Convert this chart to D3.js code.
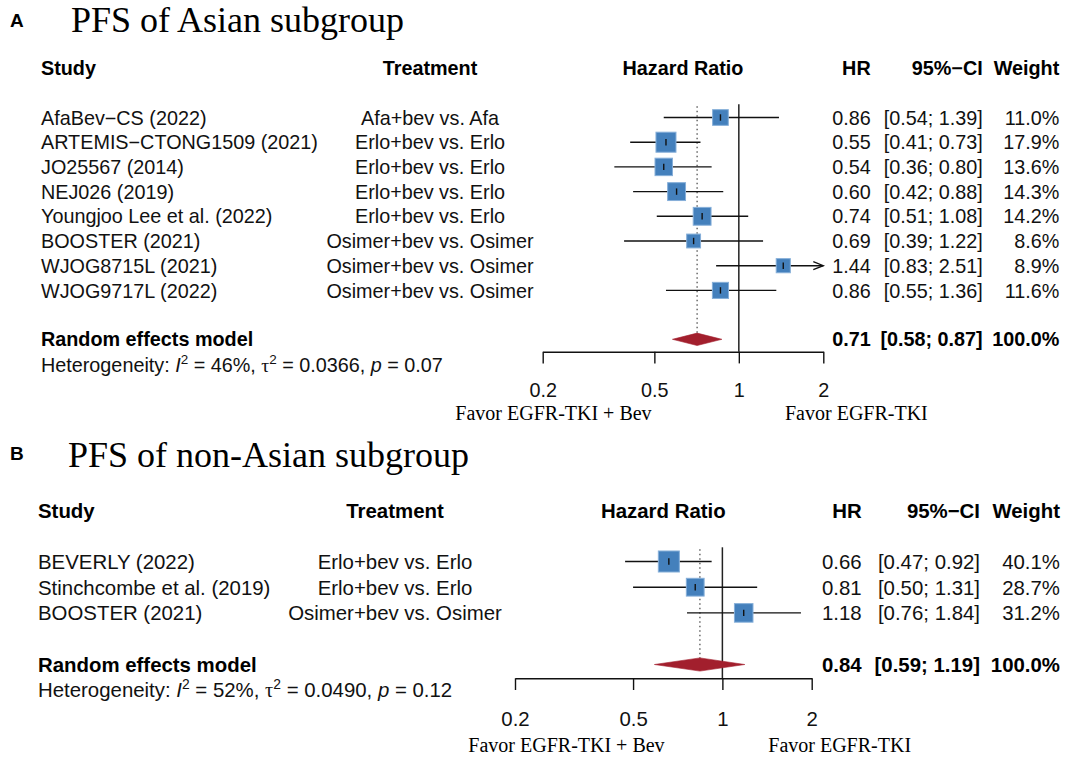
<!DOCTYPE html>
<html>
<head>
<meta charset="utf-8">
<script src="https://cdn.jsdelivr.net/npm/d3@7"></script>
<style>
  html, body { margin: 0; padding: 0; background: #ffffff; }
  svg { display: block; }
</style>
</head>
<body>
<svg id="chart" width="1065" height="759"></svg>
<script>
// ---------------- DATA ----------------
// Panel A: PFS of Asian subgroup
const asianStudies = ["AfaBev\u2212CS (2022)", "ARTEMIS\u2212CTONG1509 (2021)", "JO25567 (2014)", "NEJ026 (2019)",
  "Youngjoo Lee et al. (2022)", "BOOSTER (2021)", "WJOG8715L (2021)", "WJOG9717L (2022)"];
const asianTreatments = ["Afa+bev vs. Afa", "Erlo+bev vs. Erlo", "Erlo+bev vs. Erlo", "Erlo+bev vs. Erlo",
  "Erlo+bev vs. Erlo", "Osimer+bev vs. Osimer", "Osimer+bev vs. Osimer", "Osimer+bev vs. Osimer"];
const asianHR = [0.86, 0.55, 0.54, 0.60, 0.74, 0.69, 1.44, 0.86];
const asianLower = [0.54, 0.41, 0.36, 0.42, 0.51, 0.39, 0.83, 0.55];
const asianUpper = [1.39, 0.73, 0.80, 0.88, 1.08, 1.22, 2.51, 1.36];
const asianWeight = [11.0, 17.9, 13.6, 14.3, 14.2, 8.6, 8.9, 11.6];
const asianPooled = [0.71, 0.58, 0.87];
const asianHet = ["46%", "0.0366", "0.07"];

// Panel B: PFS of non-Asian subgroup
const nonAsianStudies = ["BEVERLY (2022)", "Stinchcombe et al. (2019)", "BOOSTER (2021)"];
const nonAsianTreatments = ["Erlo+bev vs. Erlo", "Erlo+bev vs. Erlo", "Osimer+bev vs. Osimer"];
const nonAsianHR = [0.66, 0.81, 1.18];
const nonAsianLower = [0.47, 0.50, 0.76];
const nonAsianUpper = [0.92, 1.31, 1.84];
const nonAsianWeight = [40.1, 28.7, 31.2];
const nonAsianPooled = [0.84, 0.59, 1.19];
const nonAsianHet = ["52%", "0.0490", "0.12"];

// Axis
const tickValues = [0.2, 0.5, 1, 2];
const axisDomain = [0.2, 2];
const headers = ["Study", "Treatment", "Hazard Ratio", "HR", "95%\u2212CI", "Weight"];
const favorLabels = ["Favor EGFR-TKI + Bev", "Favor EGFR-TKI"];

// ---------------- DRAWING ----------------
const SANS = "'Liberation Sans', Arial, Helvetica, sans-serif";
const SERIF = "'Liberation Serif', 'Times New Roman', Times, serif";
const svg = d3.select("#chart");
const f2 = d3.format(".2f");
const f1 = d3.format(".1f");

function drawPanel(d, L) {
  const g = svg.append("g");
  const fs = L.fontSize;
  const base = fs * 0.36; // shift from visual centre to baseline

  // Panel letter + title
  g.append("text").attr("x", 10).attr("y", L.labelY)
    .attr("font-family", SANS).attr("font-weight", "bold").attr("font-size", 19)
    .text(L.label);
  g.append("text").attr("x", L.titleX).attr("y", L.titleY)
    .attr("font-family", SERIF).attr("font-size", 36)
    .text(L.title);

  const x = d3.scaleLog().domain(axisDomain).range(L.xRange);
  const y = d3.scaleLinear().domain([0, 1]).range([L.rowY0, L.rowY0 + L.rowStep]);

  // Headers
  const hy = L.headerY + base;
  const hdr = [
    { t: headers[0], x: L.studyX, a: "start" },
    { t: headers[1], x: L.treatX, a: "middle" },
    { t: headers[2], x: (L.xRange[0] + L.xRange[1]) / 2, a: "middle" },
    { t: headers[3], x: L.hrX, a: "end" },
    { t: headers[4], x: L.ciX, a: "end" },
    { t: headers[5], x: L.wX, a: "end" }
  ];
  g.selectAll("text.hdr").data(hdr).enter().append("text").attr("class", "hdr")
    .attr("x", h => h.x).attr("y", hy).attr("text-anchor", h => h.a)
    .attr("font-family", SANS).attr("font-weight", "bold").attr("font-size", fs)
    .text(h => h.t);

  const rows = d.studies.map((s, i) => ({
    study: s, treat: d.treat[i], hr: d.hr[i], lo: d.lo[i], hi: d.hi[i], w: d.w[i], i: i
  }));

  // Text columns
  const cols = [
    { f: r => r.study, x: L.studyX, a: "start" },
    { f: r => r.treat, x: L.treatX, a: "middle" },
    { f: r => f2(r.hr), x: L.hrX, a: "end" },
    { f: r => "[" + f2(r.lo) + "; " + f2(r.hi) + "]", x: L.ciX, a: "end" },
    { f: r => f1(r.w) + "%", x: L.wX, a: "end" }
  ];
  cols.forEach(c => {
    g.selectAll(null).data(rows).enter().append("text")
      .attr("x", c.x).attr("y", r => y(r.i) + base).attr("text-anchor", c.a)
      .attr("font-family", SANS).attr("font-size", fs).attr("fill", "#111")
      .text(c.f);
  });

  // Model row text
  const my = L.modelY + base;
  g.append("text").attr("x", L.studyX).attr("y", my)
    .attr("font-family", SANS).attr("font-weight", "bold").attr("font-size", fs)
    .text("Random effects model");
  const pooledTxt = [
    { t: f2(d.pooled[0]), x: L.hrX },
    { t: "[" + f2(d.pooled[1]) + "; " + f2(d.pooled[2]) + "]", x: L.ciX },
    { t: "100.0%", x: L.wX }
  ];
  g.selectAll(null).data(pooledTxt).enter().append("text")
    .attr("x", p => p.x).attr("y", my).attr("text-anchor", "end")
    .attr("font-family", SANS).attr("font-weight", "bold").attr("font-size", fs)
    .text(p => p.t);

  // Heterogeneity
  const sup = fs * 0.38;
  const het = g.append("text").attr("x", L.studyX).attr("y", L.hetY)
    .attr("font-family", SANS).attr("font-size", fs).attr("fill", "#111");
  het.append("tspan").text("Heterogeneity: ");
  het.append("tspan").attr("font-style", "italic").text("I");
  het.append("tspan").attr("font-size", fs * 0.68).attr("dy", -sup).text("2");
  het.append("tspan").attr("dy", sup).text(" = " + d.het[0] + ", ");
  het.append("tspan").attr("font-family", SERIF).text("\u03C4");
  het.append("tspan").attr("font-size", fs * 0.68).attr("dy", -sup).text("2");
  het.append("tspan").attr("dy", sup).text(" = " + d.het[1] + ", ");
  het.append("tspan").attr("font-style", "italic").text("p");
  het.append("tspan").text(" = " + d.het[2]);

  // Null line at HR = 1
  g.append("line")
    .attr("x1", x(1)).attr("x2", x(1))
    .attr("y1", L.lineTop).attr("y2", L.axisY)
    .attr("stroke", "#222").attr("stroke-width", 1.5);

  // Dotted line at pooled estimate
  g.append("line")
    .attr("x1", x(d.pooled[0])).attr("x2", x(d.pooled[0]))
    .attr("y1", L.lineTop + 2).attr("y2", L.modelY - L.diamondHalf)
    .attr("stroke", "#333").attr("stroke-width", 1.1).attr("stroke-dasharray", "1.5,3");

  // CI lines (clipped to axis range, arrow when beyond)
  const xmax = axisDomain[1], xmin = axisDomain[0];
  g.selectAll(null).data(rows).enter().append("line")
    .attr("x1", r => x(Math.max(r.lo, xmin))).attr("x2", r => x(Math.min(r.hi, xmax)))
    .attr("y1", r => y(r.i)).attr("y2", r => y(r.i))
    .attr("stroke", "#111").attr("stroke-width", 1.4);
  const arrows = rows.filter(r => r.hi > xmax);
  g.selectAll(null).data(arrows).enter().append("path")
    .attr("d", r => {
      const tx = x(xmax), ty = y(r.i);
      return `M${tx - 10},${ty - 4}L${tx},${ty}L${tx - 10},${ty + 4}`;
    })
    .attr("fill", "none").attr("stroke", "#111").attr("stroke-width", 1.3);

  // Squares
  g.selectAll(null).data(rows).enter().append("rect")
    .attr("x", r => x(r.hr) - L.boxScale * Math.sqrt(r.w) / 2)
    .attr("y", r => y(r.i) - L.boxScale * Math.sqrt(r.w) / 2)
    .attr("width", r => L.boxScale * Math.sqrt(r.w))
    .attr("height", r => L.boxScale * Math.sqrt(r.w))
    .attr("fill", "#4480BC").attr("stroke", "#86AFD9").attr("stroke-width", 1);
  // Centre ticks
  g.selectAll(null).data(rows).enter().append("line")
    .attr("x1", r => x(r.hr)).attr("x2", r => x(r.hr))
    .attr("y1", r => y(r.i) - 3.2).attr("y2", r => y(r.i) + 3.2)
    .attr("stroke", "#111").attr("stroke-width", 1.4);

  // Diamond
  const dm = d.pooled;
  g.append("path")
    .attr("d", `M${x(dm[1])},${L.modelY}L${x(dm[0])},${L.modelY - L.diamondHalf}L${x(dm[2])},${L.modelY}L${x(dm[0])},${L.modelY + L.diamondHalf}Z`)
    .attr("fill", "#A21F2D").attr("stroke", "#A21F2D").attr("stroke-width", 0.6);

  // Axis
  const axis = d3.axisBottom(x).tickValues(tickValues).tickFormat(d3.format(""))
    .tickSize(11.7).tickSizeOuter(0).tickPadding(L.tickPad);
  const ag = g.append("g").attr("transform", `translate(0,${L.axisY})`).call(axis);
  ag.attr("font-family", null).attr("font-size", null);
  ag.select(".domain").attr("stroke", "#111").attr("stroke-width", 1.4);
  ag.selectAll(".tick line").attr("stroke", "#111").attr("stroke-width", 1.4);
  ag.selectAll(".tick text").attr("font-family", SANS).attr("font-size", fs).attr("fill", "#111");

  // Favor labels
  g.append("text").attr("x", L.favorLeftX).attr("y", L.favorY).attr("text-anchor", "middle")
    .attr("font-family", SERIF).attr("font-size", 20).text(favorLabels[0]);
  g.append("text").attr("x", L.favorRightX).attr("y", L.favorY).attr("text-anchor", "start")
    .attr("font-family", SERIF).attr("font-size", 20).text(favorLabels[1]);
}

drawPanel(
  { studies: asianStudies, treat: asianTreatments, hr: asianHR, lo: asianLower, hi: asianUpper,
    w: asianWeight, pooled: asianPooled, het: asianHet },
  { label: "A", title: "PFS of Asian subgroup", labelY: 27, titleX: 71, titleY: 32,
    headerY: 68.3, rowY0: 117.5, rowStep: 24.7, modelY: 339.3, hetY: 371.5, fontSize: 19.8,
    studyX: 41, treatX: 430, hrX: 870.7, ciX: 982.7, wX: 1059.3,
    xRange: [542.7, 823.3], axisY: 351.7, tickPad: 19.9, lineTop: 104.3,
    favorLeftX: 553.5, favorRightX: 785, favorY: 420, boxScale: 4.73, diamondHalf: 6.2 }
);

drawPanel(
  { studies: nonAsianStudies, treat: nonAsianTreatments, hr: nonAsianHR, lo: nonAsianLower, hi: nonAsianUpper,
    w: nonAsianWeight, pooled: nonAsianPooled, het: nonAsianHet },
  { label: "B", title: "PFS of non-Asian subgroup", labelY: 460, titleX: 68, titleY: 467,
    headerY: 510.7, rowY0: 561.5, rowStep: 25.7, modelY: 664.5, hetY: 697, fontSize: 20.4,
    studyX: 38, treatX: 395, hrX: 861.7, ciX: 980, wX: 1060,
    xRange: [515, 811.7], axisY: 678.3, tickPad: 21.7, lineTop: 547.3,
    favorLeftX: 566.5, favorRightX: 768.3, favorY: 751.5, boxScale: 3.32, diamondHalf: 6.6 }
);
</script>
</body>
</html>
